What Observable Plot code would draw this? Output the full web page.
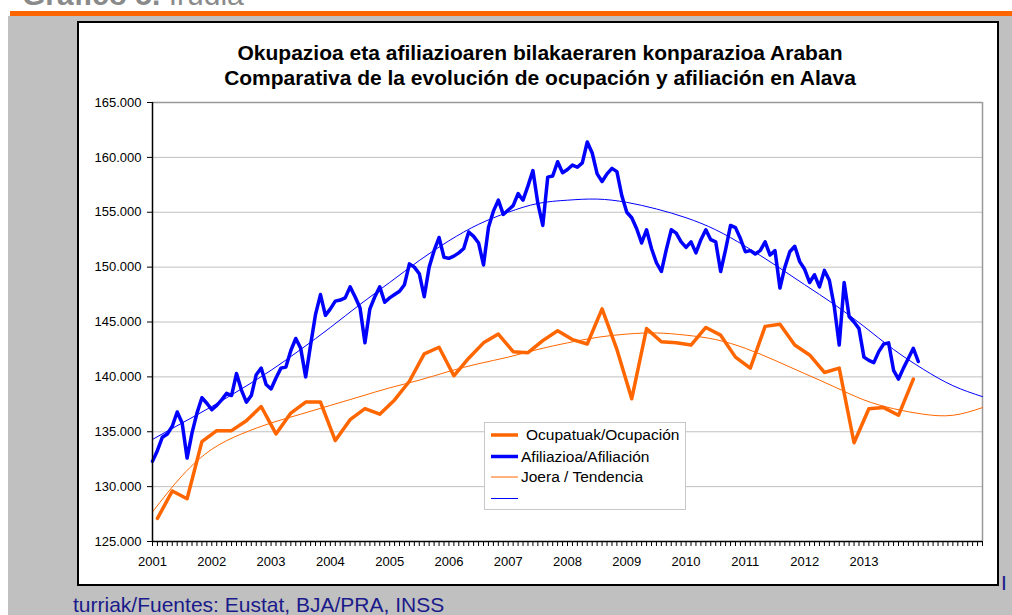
<!DOCTYPE html>
<html><head><meta charset="utf-8">
<script src="https://cdn.jsdelivr.net/npm/d3@7"></script>
<script src="https://cdn.jsdelivr.net/npm/@observablehq/plot@0.6"></script>
<style>
html,body{margin:0;padding:0}
body{width:1012px;height:615px;overflow:hidden;background:#fff;position:relative;font-family:"Liberation Sans",Arial,sans-serif}
.abs{position:absolute;white-space:nowrap}
#hdr{left:22px;top:-20px;font-size:30px;line-height:30px;color:#8a8a8a}
#bar{left:10px;top:11px;width:1002px;height:5px;background:#ff6600}
#panel{left:8px;top:16px;width:1004px;height:599px;background:#c0c0c0}
#box{left:77px;top:21px;width:922px;height:565px;background:#fff;border:2px solid #000;box-sizing:border-box}
.title{left:90px;width:900px;text-align:center;font-weight:bold;font-size:21px;line-height:21px;color:#000}
#chart{position:absolute;left:0;top:0}
#legend{left:484px;top:422px;width:202px;height:88px;background:#fff;border:1px solid #c8c8c8;box-sizing:border-box}
.lt{font-size:15.5px;line-height:15.5px;color:#000}
#foot{left:73px;top:594px;font-size:21px;line-height:21px;color:#1a1a8a}
#bar2{left:1001px;top:572px;font-size:21px;line-height:21px;color:#1a1a8a}
</style></head><body>
<div class="abs" id="hdr"><b>Gráfico 5.</b> Irudia</div>
<div class="abs" id="bar"></div>
<div class="abs" id="panel"></div>
<div class="abs" id="box"></div>
<div class="abs title" style="top:42px">Okupazioa eta afiliazioaren bilakaeraren konparazioa Araban</div>
<div class="abs title" style="top:67px">Comparativa de la evolución de ocupación y afiliación en Alava</div>
<div id="chart"></div>
<div class="abs" id="legend">
  <svg width="202" height="88" style="position:absolute;left:0;top:0">
    <line x1="6" x2="33" y1="12" y2="12" stroke="#ff6600" stroke-width="3.5"/>
    <line x1="6" x2="33" y1="33.5" y2="33.5" stroke="#0000ff" stroke-width="3.5"/>
    <line x1="6" x2="33" y1="54" y2="54" stroke="#ff6600" stroke-width="1"/>
    <line x1="6" x2="33" y1="75.5" y2="75.5" stroke="#0000ff" stroke-width="1"/>
  </svg>
  <div class="abs lt" style="left:41px;top:4px">Ocupatuak/Ocupación</div>
  <div class="abs lt" style="left:36px;top:25.5px">Afiliazioa/Afiliación</div>
  <div class="abs lt" style="left:36px;top:46px">Joera / Tendencia</div>
</div>
<div class="abs" id="foot">turriak/Fuentes: Eustat, BJA/PRA, INSS</div>
<div class="abs" id="bar2">I</div>
<script>
// Monthly affiliation (thousands), Jan 2001 .. Dec 2013
const afiliazioa = [
  132.3,133.3,134.5,134.8,135.5,136.8,135.8,132.6,134.9,136.7,138.1,137.6,
  137.0,137.4,137.9,138.5,138.3,140.3,138.8,137.7,138.3,140.2,140.8,139.3,
  138.9,139.9,140.8,140.9,142.4,143.5,142.6,140.0,142.9,145.7,147.5,145.6,
  146.2,146.9,147.0,147.2,148.2,147.3,146.3,143.1,146.2,147.3,148.2,146.8,
  147.2,147.5,147.8,148.4,150.3,150.0,149.4,147.3,150.0,151.5,152.7,150.9,
  150.8,151.0,151.3,151.7,153.2,152.8,152.2,150.2,153.6,155.1,156.1,154.8,
  155.2,155.6,156.7,156.1,157.4,158.8,155.8,153.8,158.2,158.3,159.6,158.6,
  158.9,159.3,159.1,159.5,161.4,160.4,158.5,157.8,158.5,159.0,158.7,156.5,
  155.0,154.5,153.5,152.2,153.4,151.7,150.4,149.6,151.6,153.4,153.1,152.3,
  151.8,152.3,151.3,152.5,153.4,152.5,152.3,149.6,151.6,153.8,153.6,152.6,
  151.4,151.5,151.2,151.5,152.3,151.1,151.5,148.1,150.0,151.4,151.9,150.5,
  149.8,148.6,149.3,148.2,149.7,148.8,146.4,142.9,148.6,145.5,145.0,144.4,
  141.8,141.5,141.3,142.3,143.0,143.1,140.6,139.8,140.8,141.7,142.6,141.4
];
// Quarterly employment (thousands), 2001Q1 .. 2013Q4
const ocupacion = [
  127.1,129.6,128.9,134.1, 135.1,135.1,136.0,137.3, 134.8,136.7,137.7,137.7,
  134.2,136.1,137.1,136.6, 137.9,139.6,142.1,142.7, 140.1,141.7,143.1,143.9,
  142.3,142.2,143.3,144.2, 143.4,143.0,146.2,142.5, 138.0,144.4,143.2,143.1,
  142.9,144.5,143.8,141.8, 140.8,144.6,144.8,142.9, 142.0,140.4,140.8,134.0,
  137.1,137.2,136.5,139.8
];
// Trend lines read every 6 months, Jan 2001 .. Jan 2015 (thousands)
const tendAfiliazioa = [
  134.3,135.8,137.3,138.9,140.6,142.5,144.5,146.6,148.6,150.6,152.4,153.9,155.0,155.8,
  156.1,156.2,155.9,155.3,154.5,153.4,151.9,150.2,148.4,146.6,144.6,142.5,140.7,139.2,138.2
];
const tendOcupacion = [
  127.7,131.0,133.4,134.8,135.8,136.6,137.4,138.2,139.0,139.7,140.5,141.2,141.8,142.5,
  143.1,143.6,143.9,144.0,143.8,143.4,142.6,141.5,140.3,139.1,137.9,137.1,136.6,136.5,137.2
];
const years = [2001,2002,2003,2004,2005,2006,2007,2008,2009,2010,2011,2012,2013];
const yTicks = [125000,130000,135000,140000,145000,150000,155000,160000,165000];

const blue = afiliazioa.map((v,i)=>({m:i, v:v*1000}));
const orange = ocupacion.map((v,q)=>({m:1+3*q, v:v*1000}));
const tA = tendAfiliazioa.map((v,k)=>({m:6*k, v:v*1000}));
const tO = tendOcupacion.map((v,k)=>({m:6*k, v:v*1000}));
const fmt = v => d3.format(",")(v).replace(/,/g,".");
const yearTicks = years.map((y,i)=>12*i);

const chart = Plot.plot({
  width:1012, height:615,
  marginLeft:152, marginRight:30, marginTop:102, marginBottom:74,
  style:{background:"transparent", fontFamily:"Liberation Sans, Arial, sans-serif", fontSize:"13px", color:"#000", overflow:"visible"},
  x:{domain:[0,168], axis:null, label:null},
  y:{domain:[125000,165000], axis:null, label:null},
  marks:[
    Plot.ruleY(yTicks.slice(1,-1), {stroke:"#c0c0c0", strokeWidth:1}),
    Plot.ruleY([165000], {stroke:"#999", strokeWidth:1.5}),
    Plot.ruleX([168], {stroke:"#999", strokeWidth:1.5}),
    Plot.line(orange, {x:"m", y:"v", stroke:"#ff6600", strokeWidth:3.5, strokeLinejoin:"round"}),
    Plot.line(blue, {x:"m", y:"v", stroke:"#0000ff", strokeWidth:3.5, strokeLinejoin:"round"}),
    Plot.line(tO, {x:"m", y:"v", stroke:"#ff6600", strokeWidth:1, curve:"natural"}),
    Plot.line(tA, {x:"m", y:"v", stroke:"#0000ff", strokeWidth:1, curve:"natural"}),
    Plot.axisY({ticks:yTicks, tickFormat:fmt, tickSize:5, tickPadding:6, stroke:"#000", fill:"#000", fontSize:13, label:null}),
    Plot.ruleX([0], {stroke:"#000", strokeWidth:1.5}),
    Plot.axisX({ticks:d3.range(0,169), tickSize:5, tickFormat:()=>"", stroke:"#000", label:null}),
    Plot.axisX({ticks:yearTicks, tickSize:0, tickPadding:15, tickFormat:(d,i)=>String(years[i]), fill:"#000", fontSize:13, label:null}),
    Plot.ruleY([125000], {stroke:"#000", strokeWidth:1.5})
  ]
});
document.getElementById("chart").appendChild(chart);
</script>
</body></html>
